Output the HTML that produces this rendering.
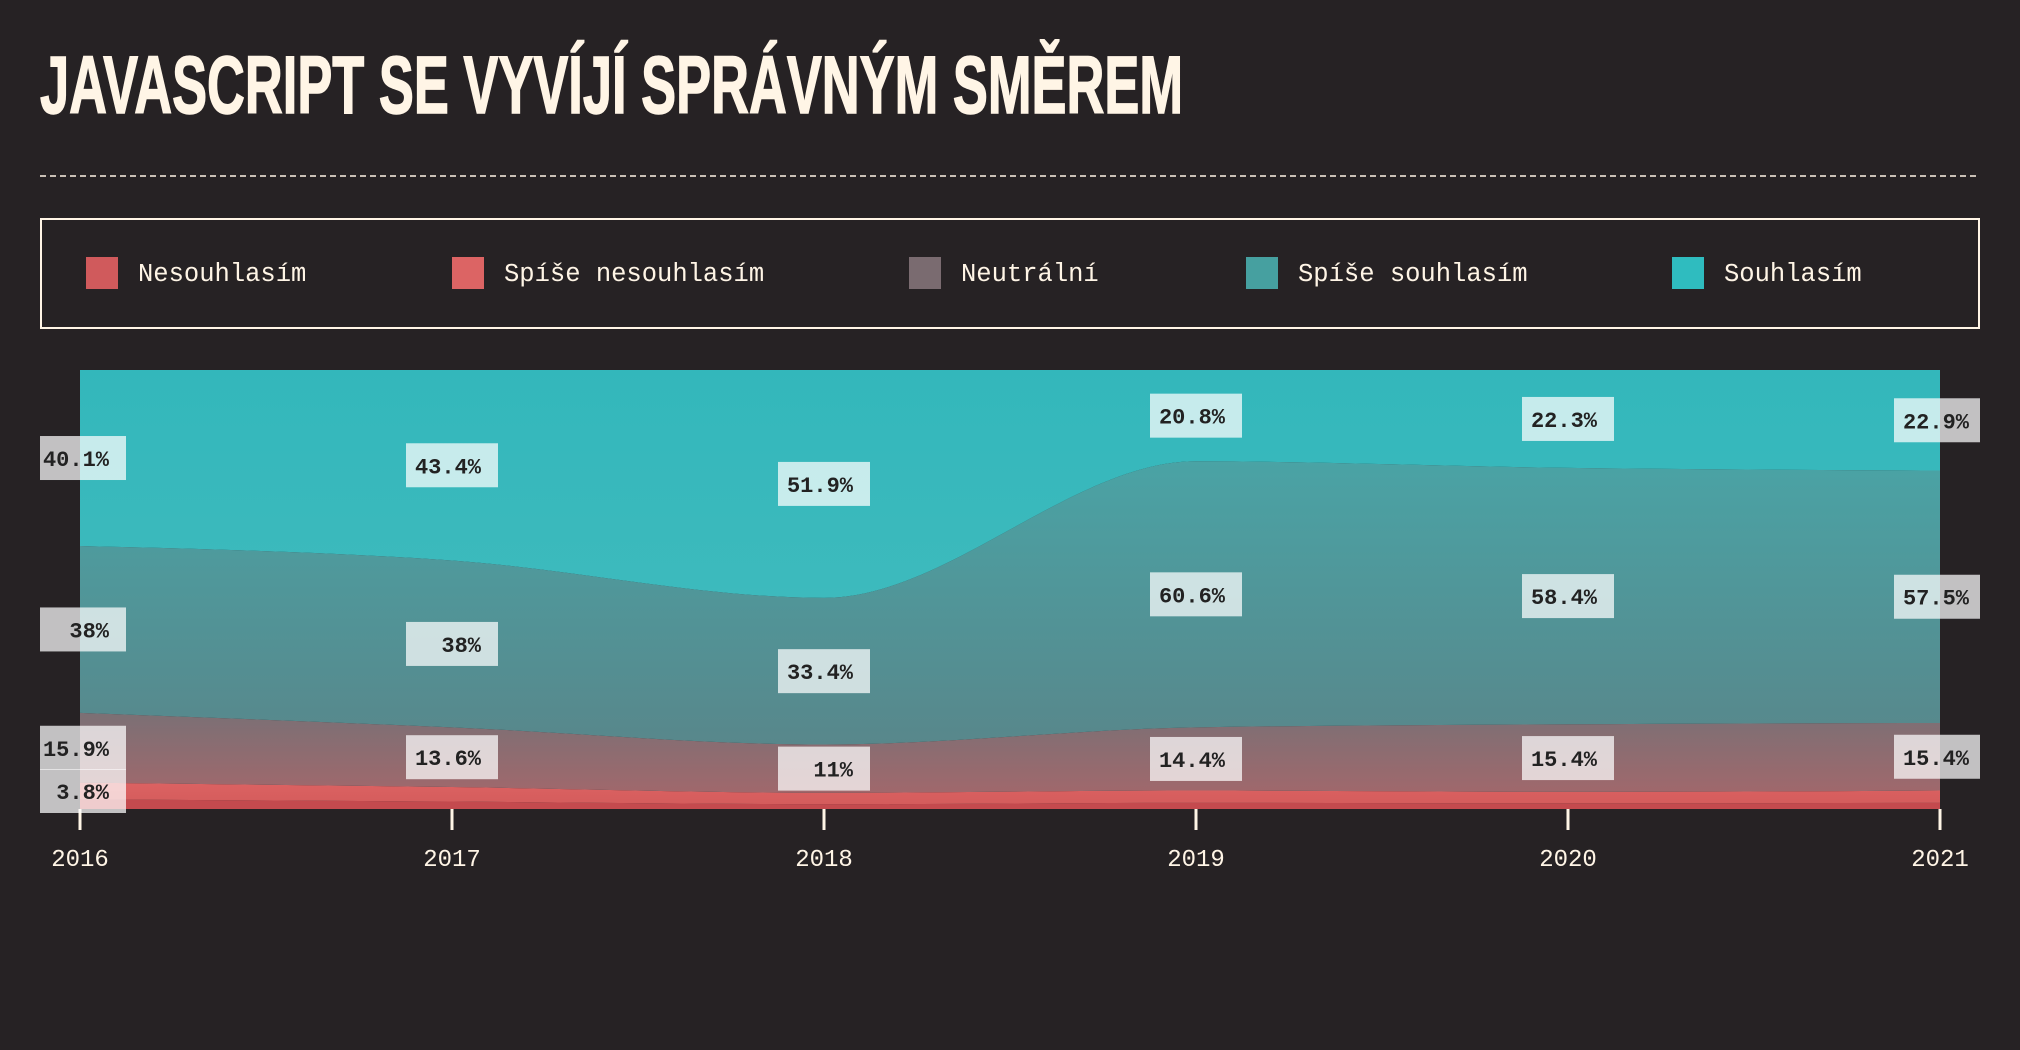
<!DOCTYPE html>
<html><head><meta charset="utf-8"><style>
body{margin:0;background:#262224;width:2020px;height:1050px;overflow:hidden;font-family:"Liberation Mono",monospace;}
svg{display:block}
</style></head><body>
<svg id="c" width="2020" height="1050">
<defs>
<linearGradient id="g4" x1="0" y1="0" x2="0" y2="1"><stop offset="0" stop-color="#33b7bb"/><stop offset="1" stop-color="#3dbabd"/></linearGradient>
<linearGradient id="g3" x1="0" y1="0" x2="0" y2="1"><stop offset="0" stop-color="#4aa3a5"/><stop offset="1" stop-color="#58878b"/></linearGradient>
<linearGradient id="g2" x1="0" y1="0" x2="0" y2="1"><stop offset="0" stop-color="#7b7075"/><stop offset="1" stop-color="#a0686c"/></linearGradient>
<linearGradient id="g1" x1="0" y1="0" x2="0" y2="1"><stop offset="0" stop-color="#dc6262"/><stop offset="1" stop-color="#d45c5c"/></linearGradient>
<linearGradient id="g0" x1="0" y1="0" x2="0" y2="1"><stop offset="0" stop-color="#c44a4e"/><stop offset="1" stop-color="#c44a4e"/></linearGradient>
</defs>
<text x="40" y="113" font-family="'Liberation Sans Narrow','Liberation Sans',sans-serif" font-weight="bold" font-size="82" fill="#fff5e6" stroke="#fff5e6" stroke-width="1.5" textLength="1143" lengthAdjust="spacingAndGlyphs">JAVASCRIPT SE VYVÍJÍ SPRÁVNÝM SMĚREM</text>
<line x1="40" y1="176" x2="1980" y2="176" stroke="#fff5e6" stroke-width="1.5" stroke-dasharray="6,4"/>
<rect x="41" y="219" width="1938" height="109" fill="none" stroke="#fff5e6" stroke-width="2"/>
<g id="legend"></g>
<g id="areas"></g>
<g id="axis"></g>
<g id="labels"></g>
</svg>
<script>
const years = ["2016","2017","2018","2019","2020","2021"];
const seriesNames = ["Nesouhlasím","Spíše nesouhlasím","Neutrální","Spíše souhlasím","Souhlasím"];
const nesouhlasim = [2.2, 1.7, 1.1, 1.4, 1.3, 1.4];
const spiseNesouhlasim = [3.8, 3.3, 2.6, 2.8, 2.6, 2.8];
const neutralni = [15.9, 13.6, 11, 14.4, 15.4, 15.4];
const spiseSouhlasim = [38, 38, 33.4, 60.6, 58.4, 57.5];
const souhlasim = [40.1, 43.4, 51.9, 20.8, 22.3, 22.9];

const series = [nesouhlasim, spiseNesouhlasim, neutralni, spiseSouhlasim, souhlasim];
const legendColors = ["#d05a5c","#dc6464","#7a6b70","#46a0a0","#2fbcbf"];
const legendX = [86,452,909,1246,1672];
const NS="http://www.w3.org/2000/svg";
const x0=80,x1=1940,yTop=370,yBot=809;
const xs=i=>x0+i*(x1-x0)/(years.length-1);
const ys=v=>yBot-v/100*(yBot-yTop);
function mk(t,a,p){const e=document.createElementNS(NS,t);for(const k in a)e.setAttribute(k,a[k]);(p||document.getElementById('c')).appendChild(e);return e;}

const lg=document.getElementById('legend');
seriesNames.forEach((n,i)=>{
  const g=mk('g',{},lg);
  
  
  const r=mk('rect',{x:legendX[i],y:257,width:32,height:32,fill:legendColors[i]},g);
  
  
  const t=mk('text',{x:legendX[i]+52,y:281,fill:'#fff5e6','font-size':25.5},g);
  
  
  t.textContent=n;
});

function slopes(px,py){
  const n=px.length,m=[],d=[];
  for(let i=0;i<n-1;i++)d.push((py[i+1]-py[i])/(px[i+1]-px[i]));
  for(let i=0;i<n;i++){
    if(i===0)m.push(d[0]);else if(i===n-1)m.push(d[n-2]);
    else{ if(d[i-1]*d[i]<=0)m.push(0); else{const h0=px[i]-px[i-1],h1=px[i+1]-px[i];const p=(d[i-1]*h1+d[i]*h0)/(h0+h1);m.push((Math.sign(d[i-1])+Math.sign(d[i]))*Math.min(Math.abs(d[i-1]),Math.abs(d[i]),0.5*Math.abs(p)));}}
  }
  if(n>2){m[0]=(3*d[0]-m[1])/2;m[n-1]=(3*d[n-2]-m[n-2])/2;}
  return m;
}
function curve(px,py,move){
  const m=slopes(px,py);let s=(move?'M':'L')+px[0]+','+py[0];
  for(let i=0;i<px.length-1;i++){const h=(px[i+1]-px[i])/3;
    s+=`C${px[i]+h},${py[i]+m[i]*h} ${px[i+1]-h},${py[i+1]-m[i+1]*h} ${px[i+1]},${py[i+1]}`;}
  return s;
}
const px=years.map((_,i)=>xs(i));
let cum=years.map(()=>0);
const stacks=[];
series.forEach(s=>{const lo=cum.slice();cum=cum.map((c,i)=>c+s[i]);stacks.push([lo,cum.slice()]);});
const ar=document.getElementById('areas');
stacks.forEach(([lo,hi],k)=>{
  const top=hi.map(ys),bot=lo.map(ys);
  const d=curve(px,top,true)+curve(px.slice().reverse(),bot.slice().reverse(),false)+'Z';
  const p=mk('path',{d:d,fill:`url(#g${k})`},ar);
  
  
});

const ax=document.getElementById('axis');
years.forEach((y,i)=>{
  const l=mk('line',{x1:xs(i),x2:xs(i),y1:809,y2:830,stroke:'#fff5e6','stroke-width':3},ax);
  
  
  const t=mk('text',{x:xs(i),y:866,fill:'#fff5e6','font-size':24,'text-anchor':'middle'},ax);
  
  
  t.textContent=y;
});

const lb=document.getElementById('labels');
stacks.forEach(([lo,hi],k)=>{
  series[k].forEach((v,i)=>{
    if(v<3.5)return;
    const cy=ys((lo[i]+hi[i])/2), cx=xs(i);
    const l=Math.max(40,cx-46), r=Math.min(1980,cx+46);
    const g=mk('g',{},lb);
    
    
    mk('rect',{x:l,y:cy-22,width:r-l,height:44,fill:'rgba(255,255,255,0.72)'},g);
    const t=mk('text',{x:cx+29,y:cy+8,'text-anchor':'end','font-size':22,'font-weight':'bold',fill:'#222'},g);
    t.textContent=v+'%';
  });
});
</script>
</body></html>
